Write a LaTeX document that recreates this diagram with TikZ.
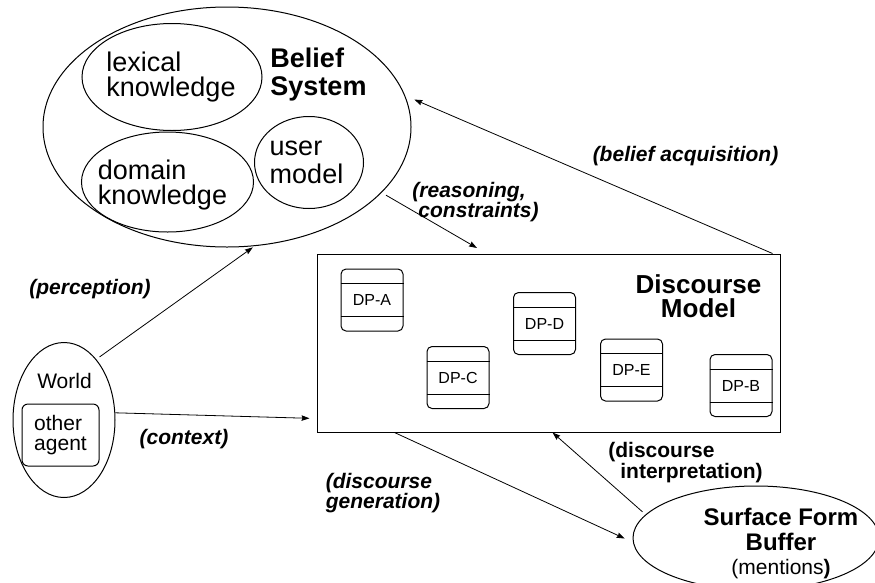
\documentclass[tikz,border=0pt]{standalone}
\usepackage{fontspec}
\setmainfont{Liberation Sans}
\usetikzlibrary{arrows.meta,shapes}

\begin{document}
\begin{tikzpicture}[x=1pt,y=-1pt,line width=1pt,
		>={Stealth[length=8pt,width=5.5pt,inset=1pt]},
		blob/.style={ellipse,draw,inner sep=0pt},
		txt/.style={inner sep=0pt,align=left,font=\fontsize{27}{25}\selectfont},
		dp/.style={draw,rounded corners=5pt,minimum width=62pt,minimum height=62pt,
			inner sep=0pt,font=\fontsize{16}{18}\selectfont},
		lbl/.style={inner sep=0pt,align=left,font=\fontsize{21}{19.5}\selectfont\bfseries\itshape},
		link/.style={->,line width=0.8pt}]

	\useasboundingbox (0,0) rectangle (875,582);

	% belief system and its parts
	\node[blob,minimum width=368pt,minimum height=240pt] (BS) at (227,127) {};
	\node[blob,minimum width=180pt,minimum height=107pt] (LK) at (172,77) {};
	\node[blob,minimum width=172pt,minimum height=100pt] (DK) at (167.5,182) {};
	\node[blob,minimum width=109pt,minimum height=92pt]  (UM) at (309,162.5) {};
	\node[txt] (LKtxt) at (171,77) {lexical\\knowledge};
	\node[txt] (DKtxt) at (162.5,185) {domain\\knowledge};
	\node[txt,font=\fontsize{27}{28}\selectfont] (UMtxt) at (306.5,162.5) {user\\model};
	\node[txt,font=\fontsize{27}{28}\selectfont\bfseries] (BStxt) at (318.5,75) {Belief\\System};

	% world
	\node[blob,minimum width=102pt,minimum height=155pt] (W) at (64,420) {};
	\node[inner sep=0pt,font=\fontsize{21}{18}\selectfont] (Wtxt) at (64.5,380.5) {World};
	\node[draw,rounded corners=6pt,minimum width=77pt,minimum height=62pt,inner sep=0pt,
		align=left,font=\fontsize{21}{19.5}\selectfont] (OA) at (60.5,435) {other\\agent};

	% discourse model
	\node[draw,minimum width=463pt,minimum height=178pt] (DM) at (548.5,343) {};
	\node[inner sep=0pt,align=center,font=\fontsize{26}{24}\selectfont\bfseries] (DMtxt)
		at (698.5,296) {Discourse\\Model};
	\node[dp] (DPA) at (372,300) {DP-A};
	\node[dp] (DPC) at (458,377.5) {DP-C};
	\node[dp] (DPD) at (544.5,323.5) {DP-D};
	\node[dp] (DPE) at (631.5,370) {DP-E};
	\node[dp] (DPB) at (741,385.5) {DP-B};
	\foreach \b in {DPA,DPB,DPC,DPD,DPE}
		\draw ([yshift=-15pt]\b.north west) -- ([yshift=-15pt]\b.north east)
			([yshift=15pt]\b.south west) -- ([yshift=15pt]\b.south east);

	% surface form buffer
	\node[blob,minimum width=246pt,minimum height=104pt] (SFB) at (756,538) {};
	\node[inner sep=0pt,align=center,font=\fontsize{24}{24.5}\selectfont] (SFBtxt) at (781,543.5)
		{{\bfseries Surface Form}\\{\bfseries Buffer}\\{\fontsize{21}{22}\selectfont(mentions\textbf{)}}};

	% connector labels
	\node[lbl] (perc) at (90,289) {(perception)};
	\node[lbl] (ctx) at (184,439) {(context)};
	\node[lbl] (reas) at (475.5,202) {(reasoning,\\\hspace*{6pt}constraints)};
	\node[lbl] (acq) at (685.5,156.5) {(belief acquisition)};
	\node[lbl] (gen) at (383,493) {(discourse\\generation)};
	\node[lbl,font=\fontsize{21}{19.5}\selectfont\bfseries] (interp) at (685.5,462.5)
		{(discourse\\\hspace*{12pt}interpretation)};

	\path[link] (W.62) edge [shorten <=4pt,shorten >=2pt] (BS.283)
		(W.8) edge [shorten >=7pt] ([yshift=14pt]DM.south west)
		(BS.-23) edge [shorten <=5pt,shorten >=11pt] ([xshift=170pt]DM.north west)
		([xshift=-8pt]DM.north east) edge [shorten >=10pt] (BS.10)
		([xshift=78pt]DM.south west) edge [shorten >=9pt] (SFB.182)
		(SFB.168) edge [shorten <=4pt] ([xshift=236pt]DM.south west);
\end{tikzpicture}
\end{document}
